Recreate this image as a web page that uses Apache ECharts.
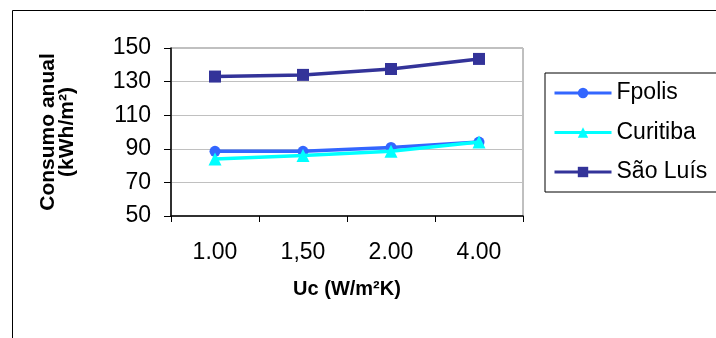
<!DOCTYPE html>
<html>
<head>
<meta charset="utf-8">
<script src="https://cdn.jsdelivr.net/npm/echarts@6/dist/echarts.min.js"></script>
<style>
html,body{margin:0;padding:0;background:#fff;}
#chart{width:716px;height:338px;}
</style>
</head>
<body>
<div id="chart"></div>
<script>
var categories = ['1.00', '1,50', '2.00', '4.00'];
var fpolis = [88.5, 88.5, 90.8, 94];
var curitiba = [84, 86, 88.5, 94];
var saoLuis = [133, 134, 137.5, 143.5];
var seriesNames = ['Fpolis', 'Curitiba', 'São Luís'];
var yTicks = [50, 70, 90, 110, 130, 150];

var FONT = '"Liberation Sans", Arial, sans-serif';
var chart = echarts.init(document.getElementById('chart'), null, {renderer: 'canvas'});
var option = {
  animation: false,
  backgroundColor: '#fff',
  textStyle: {fontFamily: FONT, color: '#000'},
  graphic: [{
    type: 'rect', left: 10, top: 8, z: -10,
    shape: {x: 0, y: 0, width: 760, height: 400},
    style: {fill: 'none', stroke: '#000', lineWidth: 1}
  }],
  grid: {
    left: 171, top: 48, width: 352, height: 168,
    show: true, borderColor: '#808080', borderWidth: 1, backgroundColor: '#fff'
  },
  legend: {
    orient: 'vertical', left: 545, top: 73,
    padding: [7, 40, 7, 8],
    borderColor: '#000', borderWidth: 1, backgroundColor: '#fff',
    itemWidth: 57, itemHeight: 13, itemGap: 13.5, itemTextGap: 6,
    lineStyle: {width: 3},
    textStyle: {fontSize: 23, lineHeight: 26, color: '#000', fontFamily: FONT},
    data: seriesNames
  },
  xAxis: {
    type: 'category', data: categories, boundaryGap: true,
    name: 'Uc (W/m²K)', nameLocation: 'middle', nameGap: 63,
    nameTextStyle: {fontSize: 20, fontWeight: 'bold', color: '#000', fontFamily: FONT},
    axisLine: {lineStyle: {color: '#000', width: 1.5}},
    axisTick: {show: true, length: 6, lineStyle: {color: '#000'}},
    axisLabel: {fontSize: 23, color: '#000', margin: 25, fontFamily: FONT},
    splitLine: {show: false}
  },
  yAxis: {
    type: 'value', min: yTicks[0], max: yTicks[yTicks.length - 1], interval: 20,
    name: 'Consumo anual\n(kWh/m²)', nameLocation: 'middle', nameGap: 94, nameRotate: 90,
    nameTextStyle: {fontSize: 21, fontWeight: 'bold', color: '#000', lineHeight: 19, fontFamily: FONT},
    axisLine: {show: true, lineStyle: {color: '#000', width: 1.5}},
    axisTick: {show: true, length: 7, lineStyle: {color: '#000'}},
    axisLabel: {fontSize: 23, color: '#000', margin: 20, fontFamily: FONT},
    splitLine: {show: true, lineStyle: {color: '#c0c0c0', width: 1}}
  },
  series: [
    {name: seriesNames[0], type: 'line', data: fpolis, symbol: 'circle', symbolSize: 11,
     color: '#3366ff', lineStyle: {width: 3.5, color: '#3366ff'}, itemStyle: {color: '#3366ff'}, z: 3},
    {name: seriesNames[1], type: 'line', data: curitiba, symbol: 'triangle', symbolSize: 13,
     color: '#00ffff', lineStyle: {width: 3.5, color: '#00ffff'}, itemStyle: {color: '#00ffff'}, z: 4},
    {name: seriesNames[2], type: 'line', data: saoLuis, symbol: 'rect', symbolSize: 12,
     color: '#333399', lineStyle: {width: 3.5, color: '#333399'}, itemStyle: {color: '#333399'}, z: 5}
  ]
};
chart.setOption(option);
</script>
</body>
</html>
